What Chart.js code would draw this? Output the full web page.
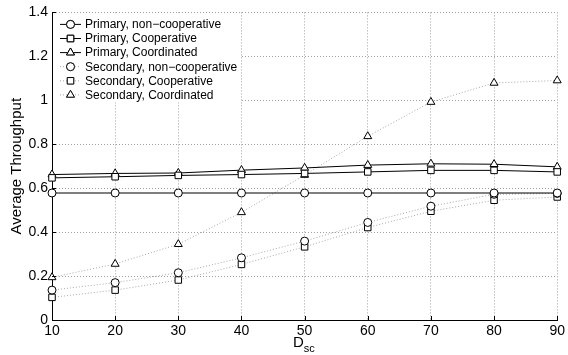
<!DOCTYPE html>
<html>
<head>
<meta charset="utf-8">
<script src="https://cdn.jsdelivr.net/npm/chart.js@4/dist/chart.umd.min.js"></script>
<style>
    html, body { margin: 0; padding: 0; background: #fff; }
    #wrap { position: relative; width: 568px; height: 355px; }
    #xtitle {
        position: absolute; left: 293px; top: 333px;
        font: 15px "Liberation Sans", Arial, sans-serif; color: #000;
    }
    #xtitle sub { font-size: 11px; vertical-align: -5px; line-height: 0; }
</style>
</head>
<body>
<div id="wrap">
    <canvas id="chart"></canvas>
    <div id="xtitle">D<sub>sc</sub></div>
</div>
<script>
// ===============================
// DATA
// ===============================

const dscValues = [10, 20, 30, 40, 50, 60, 70, 80, 90];
const yTicks = [0, 0.2, 0.4, 0.6, 0.8, 1, 1.2, 1.4];

const primaryNonCoop = [0.578, 0.578, 0.578, 0.578, 0.578, 0.578, 0.578, 0.578, 0.578];
const primaryCoop = [0.647, 0.652, 0.658, 0.662, 0.667, 0.674, 0.681, 0.681, 0.674];
const primaryCoord = [0.662, 0.667, 0.669, 0.682, 0.692, 0.705, 0.711, 0.709, 0.697];

const secondaryNonCoop = [0.136, 0.17, 0.215, 0.283, 0.359, 0.444, 0.518, 0.572, 0.576];
const secondaryCoop = [0.103, 0.136, 0.182, 0.253, 0.333, 0.421, 0.495, 0.545, 0.56];
const secondaryCoord = [0.194, 0.255, 0.345, 0.49, 0.66, 0.836, 0.992, 1.079, 1.09];

// ===============================
// STYLING
// ===============================

const fontFamily = '"Liberation Sans", Arial, Helvetica, sans-serif';
Chart.defaults.font.family = fontFamily;
Chart.defaults.color = "#000";

const solidLine = "#000000";
const dottedLine = "#a8a8a8";

function series(label, data, marker, secondary) {
    return {
        label,
        data: data.map((v, i) => ({ x: dscValues[i], y: v })),
        borderColor: secondary ? dottedLine : solidLine,
        borderWidth: 1,
        borderDash: secondary ? [1, 2] : [],
        pointStyle: marker,
        pointRadius: marker === "circle" ? 4 : 4.6,
        pointBorderColor: "#000",
        pointBackgroundColor: "#fff",
        pointBorderWidth: 1,
        tension: 0,
        fill: false,
        clip: false
    };
}

// small inward tick marks on the left and bottom axes
const innerTicks = {
    id: "innerTicks",
    afterDatasetsDraw(chart) {
        const { ctx, chartArea, scales } = chart;
        ctx.save();
        ctx.strokeStyle = "#000";
        ctx.lineWidth = 1;
        ctx.beginPath();
        scales.x.ticks.forEach((t) => {
            const x = Math.round(scales.x.getPixelForValue(t.value)) + 0.5;
            ctx.moveTo(x, chartArea.bottom);
            ctx.lineTo(x, chartArea.bottom - 4);
        });
        scales.y.ticks.forEach((t) => {
            const y = Math.round(scales.y.getPixelForValue(t.value)) + 0.5;
            ctx.moveTo(chartArea.left, y);
            ctx.lineTo(chartArea.left + 4, y);
        });
        ctx.stroke();
        ctx.restore();
    }
};

// legend drawn inside the axes, MATLAB style (line sample + marker), no frame
const boxLegend = {
    id: "boxLegend",
    afterDraw(chart) {
        const ctx = chart.ctx;
        const left = chart.chartArea.left;
        const top = chart.chartArea.top;
        const w = 187, h = 89, rowH = 14.1;
        ctx.save();
        ctx.fillStyle = "#fff";
        ctx.fillRect(left + 1, top + 1, w, h);
        ctx.font = "12px " + fontFamily;
        ctx.textBaseline = "middle";
        chart.data.datasets.forEach((ds, i) => {
            const y = top + 12 + i * rowH;
            ctx.strokeStyle = ds.borderColor;
            ctx.lineWidth = 1;
            ctx.setLineDash(ds.borderDash);
            ctx.beginPath();
            ctx.moveTo(left + 8, y);
            ctx.lineTo(left + 29, y);
            ctx.stroke();
            ctx.setLineDash([]);
            Chart.helpers.drawPoint(ctx, {
                pointStyle: ds.pointStyle,
                radius: ds.pointRadius,
                borderWidth: 1
            }, left + 18.5, y);
            ctx.fillStyle = "#fff";
            ctx.strokeStyle = "#000";
            ctx.fill();
            ctx.stroke();
            ctx.fillStyle = "#000";
            ctx.fillText(ds.label, left + 33, y + 0.5);
        });
        ctx.restore();
    }
};

new Chart(document.getElementById("chart"), {
    type: "line",
    data: {
        datasets: [
            series("Primary, non\u2212cooperative", primaryNonCoop, "circle", false),
            series("Primary, Cooperative", primaryCoop, "rect", false),
            series("Primary, Coordinated", primaryCoord, "triangle", false),
            series("Secondary, non\u2212cooperative", secondaryNonCoop, "circle", true),
            series("Secondary, Cooperative", secondaryCoop, "rect", true),
            series("Secondary, Coordinated", secondaryCoord, "triangle", true)
        ]
    },
    options: {
        responsive: true,
        maintainAspectRatio: false,
        animation: false,
        layout: { padding: { top: 12, right: 10, left: 0, bottom: 0 } },
        plugins: {
            legend: { display: false },
            tooltip: { enabled: false }
        },
        scales: {
            x: {
                type: "linear",
                min: 10,
                max: 90,
                afterBuildTicks: (scale) => {
                    scale.ticks = dscValues.map(v => ({ value: v }));
                },
                afterFit: (scale) => { scale.height = 35; },
                ticks: {
                    font: { size: 14 },
                    color: "#000",
                    padding: 3,
                    maxRotation: 0,
                    autoSkip: false
                },
                grid: {
                    color: "#a0a0a0",
                    drawTicks: false
                },
                border: {
                    display: true,
                    color: "#000",
                    width: 1,
                    dash: [1, 2]
                }
            },
            y: {
                min: 0,
                max: 1.4,
                afterBuildTicks: (scale) => {
                    scale.ticks = yTicks.map(v => ({ value: v }));
                },
                afterFit: (scale) => { scale.width = 52; },
                ticks: {
                    font: { size: 14 },
                    color: "#000",
                    padding: 4,
                    callback: (v) => String(v)
                },
                grid: {
                    color: "#a0a0a0",
                    drawTicks: false
                },
                border: {
                    display: true,
                    color: "#000",
                    width: 1,
                    dash: [1, 2]
                },
                title: {
                    display: true,
                    text: "Average Throughput",
                    font: { size: 15 },
                    color: "#000",
                    padding: { top: 8, bottom: 0 }
                }
            }
        }
    },
    plugins: [innerTicks, boxLegend]
});
</script>
</body>
</html>
